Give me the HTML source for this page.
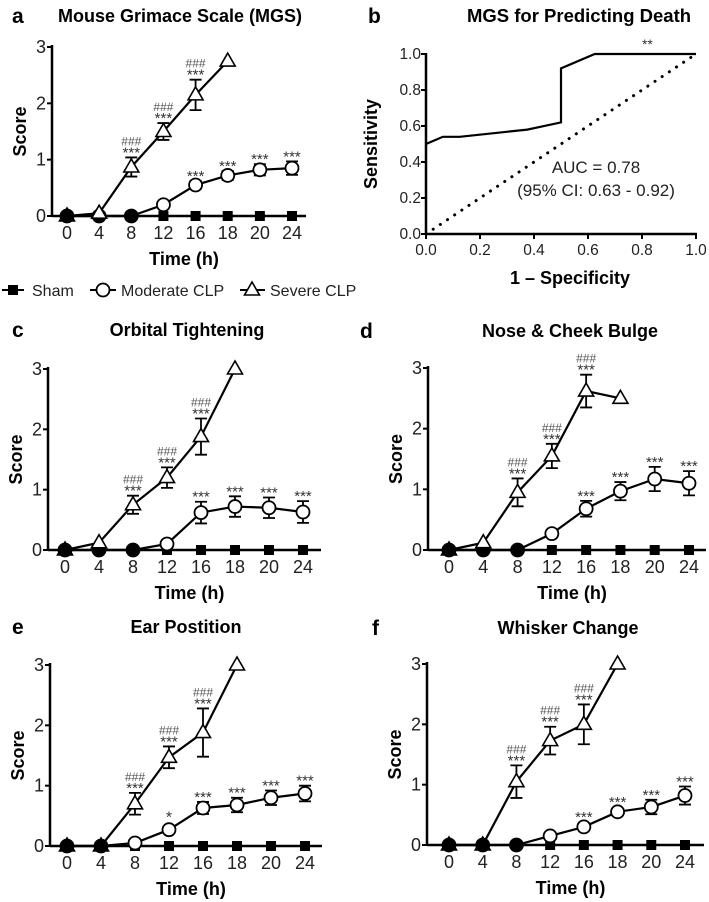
<!DOCTYPE html>
<html><head><meta charset="utf-8"><style>
body{margin:0;background:#fff;width:709px;height:902px;overflow:hidden}
svg{display:block;font-family:"Liberation Sans",sans-serif}
</style></head><body>
<svg id="fig" width="709" height="902" viewBox="0 0 709 902"></svg>
<script>
const categories=["0","4","8","12","16","18","20","24"];
const yTicks=[0,1,2,3];
// panel a
const aSham=[0,0,0,0,0,0,0,0];
const aMod=[0,0,0,0.2,0.55,0.72,0.82,0.85];
const aModErr=[0,0,0,0,0.07,0.08,0.1,0.12];
const aSev=[0,0.05,0.87,1.5,2.15,2.75];
const aSevErr=[0,0,0.17,0.15,0.27,0];
const aModSig=["","","","","***","***","***","***"];
// panel c
const cMod=[0,0,0,0.1,0.62,0.72,0.7,0.63];
const cModErr=[0,0,0,0,0.18,0.17,0.17,0.18];
const cSev=[0,0.12,0.75,1.2,1.88,3.0];
const cSevErr=[0,0,0.15,0.17,0.3,0];
const cModSig=["","","","","***","***","***","***"];
// panel d
const dMod=[0,0,0,0.27,0.68,0.97,1.17,1.1];
const dModErr=[0,0,0,0,0.13,0.15,0.2,0.2];
const dSev=[0,0.12,0.95,1.55,2.62,2.5];
const dSevErr=[0,0,0.23,0.2,0.27,0];
const dModSig=["","","","","***","***","***","***"];
// panel e
const eMod=[0,0,0.05,0.27,0.63,0.68,0.8,0.87];
const eModErr=[0,0,0,0,0.1,0.12,0.12,0.13];
const eSev=[0,0,0.7,1.47,1.88,3.0];
const eSevErr=[0,0,0.18,0.18,0.4,0];
const eModSig=["","","","*","***","***","***","***"];
// panel f
const fMod=[0,0,0,0.15,0.3,0.55,0.63,0.82];
const fModErr=[0,0,0,0,0,0,0.12,0.15];
const fSev=[0,0,1.05,1.73,2.0,3.0];
const fSevErr=[0,0,0.27,0.23,0.33,0];
const fModSig=["","","","","***","***","***","***"];
const sevSig=["","","###","###","###",""];
// panel b ROC
const rocX=[0,0.0625,0.125,0.375,0.5,0.5,0.625,1];
const rocY=[0.5,0.54,0.54,0.58,0.62,0.92,1,1];
const rocTicks=[0,0.2,0.4,0.6,0.8,1.0];

const NS="http://www.w3.org/2000/svg";
const svg=document.getElementById('fig');
function el(tag,attrs,parent,txt){const e=document.createElementNS(NS,tag);for(const k in attrs)e.setAttribute(k,attrs[k]);if(txt!==undefined)e.textContent=txt;(parent||svg).appendChild(e);return e;}

function panel(cfg){
  const g=el('g',{});
  
  
  const {ax,x0,x24,y0,y3,xEnd}=cfg;
  const X=i=>x0+(x24-x0)*i/7;
  const Y=v=>y0+(y3-y0)*v/3;
  let t=el('text',{x:cfg.lx,y:cfg.ty+1,'font-size':21,'font-weight':'bold'},g,cfg.letter);
  
  t=el('text',{x:cfg.tx,y:cfg.ty,'font-size':18,'font-weight':'bold','text-anchor':'middle'},g,cfg.title);
  
  let a=el('line',{x1:ax,y1:y3-2,x2:ax,y2:y0,stroke:'#000','stroke-width':2.5},g);
  
  a=el('line',{x1:ax,y1:y0,x2:xEnd,y2:y0,stroke:'#000','stroke-width':2.5},g);
  
  yTicks.forEach(v=>{
    el('line',{x1:ax-5,y1:Y(v),x2:ax,y2:Y(v),stroke:'#000','stroke-width':2},g);
    const tl=el('text',{x:ax-6,y:Y(v)+6,'font-size':18,'text-anchor':'end',fill:'#222'},g,v);
    
  });
  categories.forEach((c,i)=>{
    const tl=el('text',{x:X(i),y:y0+23,'font-size':18,'text-anchor':'middle',fill:'#222'},g,c);
    
  });
  t=el('text',{x:(ax+xEnd)/2+5,y:y0+49,'font-size':18,'font-weight':'bold','text-anchor':'middle'},g,'Time (h)');
  
  const ym=(y0+y3)/2;
  t=el('text',{x:ax-26,y:ym,'font-size':18,'font-weight':'bold','text-anchor':'middle',transform:`rotate(-90 ${ax-26} ${ym})`},g,'Score');
  
  const line=(arr)=>arr.map((v,i)=>X(i)+','+Y(v)).join(' ');
  let p=el('polyline',{points:line(cfg.mod),fill:'none',stroke:'#000','stroke-width':2.2},g);
  
  p=el('polyline',{points:line(cfg.sev),fill:'none',stroke:'#000','stroke-width':2.2},g);
  
  const eb=(arr,err,name)=>arr.forEach((v,i)=>{if(!err[i])return;
    const e=el('path',{d:`M${X(i)},${Y(v-err[i])}V${Y(v+err[i])}M${X(i)-6},${Y(v-err[i])}h12M${X(i)-6},${Y(v+err[i])}h12`,stroke:'#000','stroke-width':1.8,fill:'none'},g);
    });
  eb(cfg.mod,cfg.modErr,'moderate-error-bar');eb(cfg.sev,cfg.sevErr,'severe-error-bar');
  cfg.sham.forEach((v,i)=>{const m=el('rect',{x:X(i)-5,y:Y(v)-5,width:10,height:10,fill:'#000'},g);
    });
  cfg.mod.forEach((v,i)=>{const m=el('circle',{cx:X(i),cy:Y(v),r:6.5,fill:(v===0?'#000':'#fff'),stroke:'#000','stroke-width':1.8},g);
    });
  cfg.sev.forEach((v,i)=>{const cx=X(i),cy=Y(v);
    const m=el('polygon',{points:`${cx},${cy-8} ${cx-7.5},${cy+5} ${cx+7.5},${cy+5}`,fill:(v===0?'#000':'#fff'),stroke:'#000','stroke-width':1.6},g);
    });
  cfg.modSig.forEach((s,i)=>{if(!s)return;const top=Y(cfg.mod[i]+cfg.modErr[i])-(cfg.modErr[i]?4:9);
    const st=el('text',{x:X(i),y:top+(s==='*'?2:4),'font-size':s==='*'?16:15,'text-anchor':'middle',fill:'#333'},g,s);
    });
  sevSig.forEach((s,i)=>{if(!s)return;const top=Y(cfg.sev[i]+cfg.sevErr[i])-4;
    let st=el('text',{x:X(i),y:top+4,'font-size':15,'text-anchor':'middle',fill:'#333'},g,'***');
    
    st=el('text',{x:X(i),y:top-8,'font-size':12,'text-anchor':'middle',fill:'#555'},g,s);
    });
}
const sham=[0,0,0,0,0,0,0,0];
panel({letter:'a',title:'Mouse Grimace Scale (MGS)',lx:12,tx:180,ty:22,ax:52,x0:67,x24:292,y0:216,y3:47,xEnd:306,sham:aSham,mod:aMod,modErr:aModErr,sev:aSev,sevErr:aSevErr,modSig:aModSig});
panel({letter:'c',title:'Orbital Tightening',lx:12,tx:187,ty:336,ax:48,x0:65,x24:303,y0:550,y3:369,xEnd:321,sham:sham,mod:cMod,modErr:cModErr,sev:cSev,sevErr:cSevErr,modSig:cModSig});
panel({letter:'d',title:'Nose & Cheek Bulge',lx:360,tx:570,ty:337,ax:428,x0:449,x24:689,y0:550,y3:368,xEnd:706,sham:sham,mod:dMod,modErr:dModErr,sev:dSev,sevErr:dSevErr,modSig:dModSig});
panel({letter:'e',title:'Ear Postition',lx:12,tx:186,ty:633,ax:50,x0:67,x24:305,y0:846,y3:665,xEnd:322,sham:sham,mod:eMod,modErr:eModErr,sev:eSev,sevErr:eSevErr,modSig:eModSig});
panel({letter:'f',title:'Whisker Change',lx:372,tx:568,ty:634,ax:427,x0:449,x24:685,y0:845,y3:664,xEnd:704,sham:sham,mod:fMod,modErr:fModErr,sev:fSev,sevErr:fSevErr,modSig:fModSig});

(function(){
  const g=el('g',{});
  const y=290;
  let e=el('g',{},g);
  el('line',{x1:2,y1:y,x2:24,y2:y,stroke:'#000','stroke-width':2},e);el('rect',{x:8,y:y-5,width:10,height:10},e);
  el('text',{x:32,y:y+6,'font-size':16,fill:'#222'},e,'Sham');
  e=el('g',{},g);
  el('line',{x1:90,y1:y,x2:116,y2:y,stroke:'#000','stroke-width':2},e);el('circle',{cx:103,cy:y,r:6.5,fill:'#fff',stroke:'#000','stroke-width':1.8},e);
  el('text',{x:121,y:y+6,'font-size':16,fill:'#222'},e,'Moderate CLP');
  e=el('g',{},g);
  el('line',{x1:240,y1:y,x2:265,y2:y,stroke:'#000','stroke-width':2},e);el('polygon',{points:`252,${y-8} 244.5,${y+5} 259.5,${y+5}`,fill:'#fff',stroke:'#000','stroke-width':1.6},e);
  el('text',{x:270,y:y+6,'font-size':16,fill:'#222'},e,'Severe CLP');
})();

(function(){
  const g=el('g',{});
  const ox=426,oy=234,x1=696,y1=54;
  const X=v=>ox+(x1-ox)*v, Y=v=>oy+(y1-oy)*v;
  let t=el('text',{x:368,y:23,'font-size':21,'font-weight':'bold'},g,'b');
  t=el('text',{x:579,y:22,'font-size':18.5,'font-weight':'bold','text-anchor':'middle'},g,'MGS for Predicting Death');
  let a=el('line',{x1:ox,y1:y1-1,x2:ox,y2:oy,stroke:'#000','stroke-width':2.5},g);
  a=el('line',{x1:ox,y1:oy,x2:x1+1,y2:oy,stroke:'#000','stroke-width':2.5},g);
  rocTicks.forEach(v=>{
    el('line',{x1:ox-5,y1:Y(v),x2:ox,y2:Y(v),stroke:'#000','stroke-width':2},g);
    el('line',{x1:X(v),y1:oy,x2:X(v),y2:oy+5,stroke:'#000','stroke-width':2},g);
    let tl=el('text',{x:ox-5,y:Y(v)+5,'font-size':15.5,'text-anchor':'end',fill:'#222'},g,v.toFixed(1));
    tl=el('text',{x:X(v),y:oy+21,'font-size':15.5,'text-anchor':'middle',fill:'#222'},g,v.toFixed(1));
  });
  t=el('text',{x:570,y:284,'font-size':18,'font-weight':'bold','text-anchor':'middle'},g,'1 – Specificity');
  t=el('text',{x:377,y:144,'font-size':18,'font-weight':'bold','text-anchor':'middle',transform:'rotate(-90 377 144)'},g,'Sensitivity');
  let p=el('line',{x1:X(0),y1:Y(0),x2:X(1),y2:Y(1),stroke:'#000','stroke-width':3,'stroke-dasharray':'0.1 8.5','stroke-linecap':'round'},g);
  p=el('polyline',{points:rocX.map((v,i)=>X(v)+','+Y(rocY[i])).join(' '),fill:'none',stroke:'#000','stroke-width':2.2},g);
  t=el('text',{x:X(0.82),y:Y(1.05)+4,'font-size':14,'text-anchor':'middle',fill:'#333'},g,'**');
  t=el('text',{x:596,y:173,'font-size':17,'text-anchor':'middle',fill:'#222'},g,'AUC = 0.78');
  t=el('text',{x:596,y:196,'font-size':17,'text-anchor':'middle',fill:'#222'},g,'(95% CI: 0.63 - 0.92)');
})();
</script>
</body></html>
